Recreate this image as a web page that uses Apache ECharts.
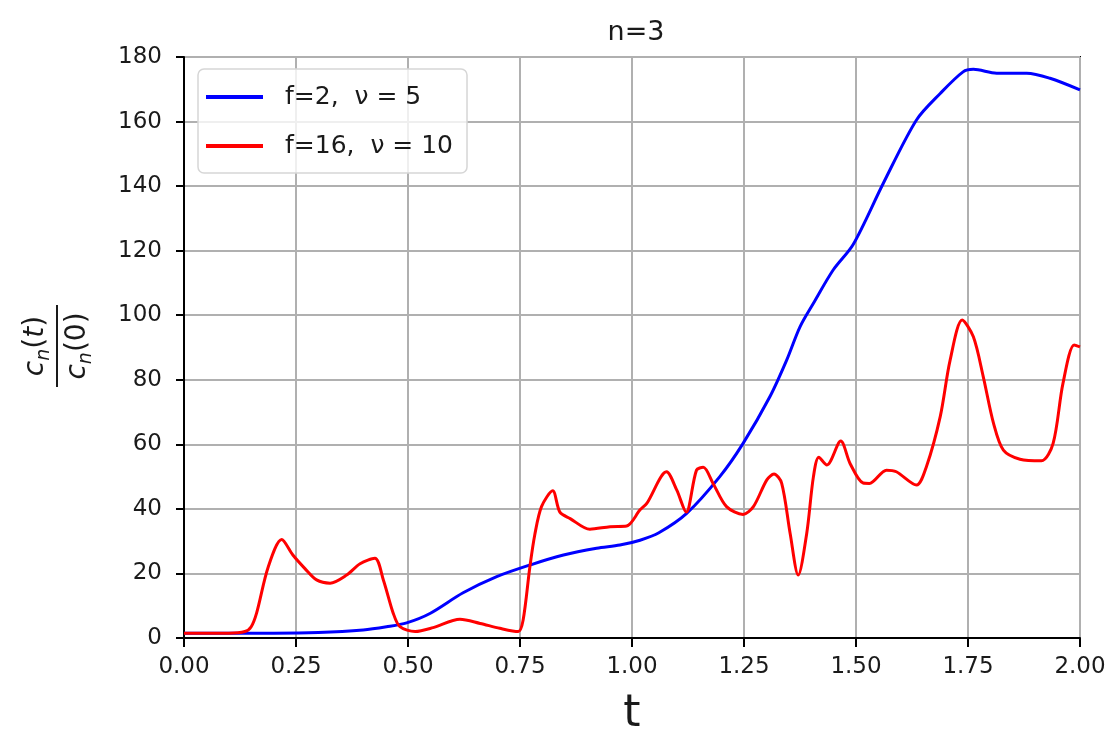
<!DOCTYPE html>
<html>
<head>
<meta charset="utf-8">
<script src="https://cdn.jsdelivr.net/npm/echarts@6/dist/echarts.min.js"></script>
<style>html,body{margin:0;padding:0;background:#fff;}#c{width:1114px;height:736px;}</style>
</head>
<body>
<div id="c"></div>
<script>
const xTicks = [0, 0.25, 0.5, 0.75, 1.0, 1.25, 1.5, 1.75, 2.0];
const yTicks = [0, 20, 40, 60, 80, 100, 120, 140, 160, 180];

const blueT = [0, 0.2, 0.3, 0.4, 0.452, 0.497, 0.549, 0.623, 0.698, 0.772, 0.847, 0.921, 0.973, 1.018, 1.06, 1.122, 1.196, 1.248, 1.308, 1.345, 1.375, 1.405, 1.449, 1.494, 1.561, 1.635, 1.688, 1.739, 1.762, 1.814, 1.881, 1.933, 2.0];
const blueV = [1.5, 1.5, 1.7, 2.5, 3.5, 4.7, 7.6, 14, 19, 22.6, 25.7, 27.8, 28.8, 30.3, 32.6, 38.6, 50, 60.3, 74.8, 86, 96.4, 103.7, 114, 122, 140.9, 160.5, 168.7, 175.4, 176.2, 175, 175, 173.4, 169.8];

const redT = [0, 0.05, 0.10, 0.136, 0.15, 0.162, 0.188, 0.218, 0.243, 0.27, 0.296, 0.326, 0.363, 0.393, 0.426, 0.445, 0.467, 0.482, 0.516, 0.556, 0.616, 0.661, 0.705, 0.746, 0.757, 0.772, 0.783, 0.798, 0.823, 0.839, 0.862, 0.906, 0.951, 0.988, 1.018, 1.033, 1.077, 1.1, 1.121, 1.144, 1.159, 1.181, 1.211, 1.248, 1.271, 1.301, 1.317, 1.334, 1.353, 1.371, 1.39, 1.405, 1.417, 1.435, 1.466, 1.487, 1.516, 1.53, 1.568, 1.59, 1.635, 1.657, 1.688, 1.71, 1.737, 1.762, 1.784, 1.807, 1.829, 1.866, 1.914, 1.94, 1.962, 1.987, 2.0];
const redV = [1.5, 1.5, 1.5, 2, 3.5, 7.7, 22, 30.5, 25.7, 21.5, 18, 17, 19.5, 23, 24.7, 18, 7.7, 3.5, 2, 3.2, 5.8, 4.5, 3, 2, 5.6, 22, 32, 40.7, 45.6, 39, 37, 33.7, 34.5, 34.7, 39.7, 41.7, 51.5, 45.8, 39, 52, 52.9, 47.9, 40.7, 38.3, 40.7, 49, 50.8, 48, 32.4, 19.5, 32.4, 50, 56, 53.6, 61, 54, 48, 47.9, 52, 51.5, 47.4, 53, 68.6, 86, 98.5, 93.3, 81, 66.5, 58.2, 55.4, 54.9, 60.3, 78.9, 90.8, 90.2];

const blueName = 'f=2,  ν = 5';
const redName = 'f=16,  ν = 10';

const pair = (ts, vs) => ts.map((t, i) => [t, vs[i]]);
const FONT = 'DejaVu Sans';
const TXT = '#1a1a1a';

const fracRich = {
  c: {fontFamily: FONT, fontStyle: 'italic', fontSize: 28, lineHeight: 36, verticalAlign: 'middle', fill: TXT},
  n: {fontFamily: FONT, fontStyle: 'italic', fontSize: 19, lineHeight: 36, verticalAlign: 'bottom', fill: TXT},
  p: {fontFamily: FONT, fontSize: 28, lineHeight: 36, verticalAlign: 'middle', fill: TXT}
};

const chart = echarts.init(document.getElementById('c'), null, {renderer: 'canvas'});
chart.setOption({
  animation: false,
  backgroundColor: '#fff',
  title: {
    text: 'n=3', left: 631, top: 14, textAlign: 'center',
    textStyle: {fontFamily: FONT, fontSize: 27, fontWeight: 'normal', color: TXT}
  },
  grid: {left: 184, right: 34, top: 57, bottom: 98, outerBoundsMode: 'none', containLabel: false,
         show: true, borderColor: '#000', borderWidth: 2, backgroundColor: 'transparent'},
  legend: {
    left: 198, top: 69, orient: 'vertical',
    data: [blueName, redName],
    icon: 'rect', itemWidth: 57, itemHeight: 4, itemGap: 23,
    padding: [15, 14, 14, 8],
    backgroundColor: 'rgba(255,255,255,0.8)', borderColor: '#d6d6d6', borderWidth: 1.5, borderRadius: 6,
    textStyle: {fontFamily: FONT, fontSize: 25, color: TXT, lineHeight: 26, padding: [0, 0, 0, 17]}
  },
  xAxis: {
    type: 'value', min: 0, max: 2, interval: 0.25,
    name: 't', nameLocation: 'middle', nameGap: 55,
    nameTextStyle: {fontFamily: FONT, fontSize: 44, color: TXT},
    axisLine: {show: true, lineStyle: {color: '#000', width: 2}},
    axisTick: {show: true, inside: false, length: 9, lineStyle: {color: '#000', width: 2}},
    axisLabel: {fontFamily: FONT, fontSize: 23, color: TXT, margin: 18, formatter: v => v.toFixed(2)},
    splitLine: {show: true, lineStyle: {color: '#b0b0b0', width: 2}}
  },
  yAxis: {
    type: 'value', min: 0, max: 180, interval: 20,
    axisLine: {show: true, lineStyle: {color: '#000', width: 2}},
    axisTick: {show: true, inside: false, length: 8, lineStyle: {color: '#000', width: 2}},
    axisLabel: {fontFamily: FONT, fontSize: 23, color: TXT, margin: 22, formatter: v => String(v)},
    splitLine: {show: true, lineStyle: {color: '#b0b0b0', width: 2}}
  },
  series: [
    {name: blueName, type: 'line', data: pair(blueT, blueV), showSymbol: false, symbol: 'none', smooth: 0.3,
     lineStyle: {color: '#0000ff', width: 3}, itemStyle: {color: '#0000ff'}},
    {name: redName, type: 'line', data: pair(redT, redV), showSymbol: false, symbol: 'none', smooth: 0.3,
     lineStyle: {color: '#ff0000', width: 3}, itemStyle: {color: '#ff0000'}}
  ],
  graphic: [{
    type: 'group', x: 57, y: 346, rotation: Math.PI / 2,
    children: [
      {type: 'text', x: 0, y: -3, style: {
        text: '{c|c}{n|n}{p|(}{c|t}{p|)}', align: 'center', verticalAlign: 'bottom', rich: fracRich
      }},
      {type: 'line', shape: {x1: -41, y1: 0, x2: 41, y2: 0}, style: {stroke: TXT, lineWidth: 2}},
      {type: 'text', x: 0, y: 3, style: {
        text: '{c|c}{n|n}{p|(0)}', align: 'center', verticalAlign: 'top', rich: fracRich
      }}
    ]
  }]
});
</script>
</body>
</html>
